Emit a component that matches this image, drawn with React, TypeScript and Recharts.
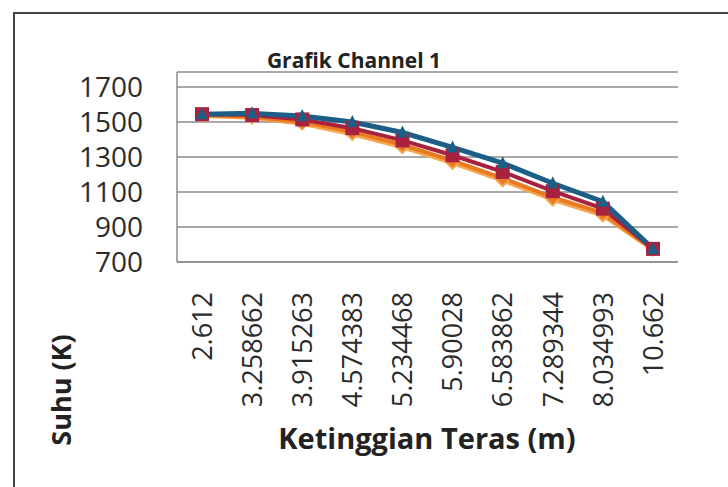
import React from "react"
import { LineChart, Line, XAxis, YAxis, CartesianGrid } from "recharts"

const heights = [
  "2.612",
  "3.258662",
  "3.915263",
  "4.574383",
  "5.234468",
  "5.90028",
  "6.583862",
  "7.289344",
  "8.034993",
  "10.662",
]

// four temperature series, top to bottom in the picture
const blueSeries = [1545, 1550, 1535, 1500, 1440, 1355, 1265, 1150, 1045, 775]
const redSeries = [1545, 1540, 1515, 1465, 1395, 1310, 1215, 1105, 1005, 775]
const orangeSeries = [1540, 1530, 1500, 1445, 1370, 1280, 1180, 1070, 980, 772]
const lightOrangeSeries = [1535, 1525, 1490, 1430, 1355, 1265, 1165, 1055, 965, 770]

const yTicks = [700, 900, 1100, 1300, 1500, 1700]

const data = heights.map((h, i) => ({
  name: h,
  s1: blueSeries[i],
  s2: redSeries[i],
  s3: orangeSeries[i],
  s4: lightOrangeSeries[i],
}))

const font = "'Open Sans', 'Noto Sans', sans-serif"

function YTick({ y, payload }: any) {
  return (
    <text x={143} y={y} dy="0.36em" textAnchor="end" fontFamily={font} fontSize={28} fill="#2b2b2b">
      {payload.value}
    </text>
  )
}

function XTick({ x, payload }: any) {
  return (
    <text
      transform={`translate(${x},292) rotate(-90)`}
      dy="0.36em"
      textAnchor="end"
      fontFamily={font}
      fontSize={27}
      fill="#2b2b2b"
    >
      {payload.value}
    </text>
  )
}

function Triangle({ cx, cy, fill }: any) {
  if (cx == null || cy == null) return null
  return <path d={`M${cx},${cy - 7} L${cx + 6},${cy + 5} L${cx - 6},${cy + 5} Z`} fill={fill} />
}

function Square({ cx, cy, fill }: any) {
  if (cx == null || cy == null) return null
  return <rect x={cx - 7} y={cy - 7} width={14} height={14} fill={fill} />
}

function Diamond({ cx, cy, fill }: any) {
  if (cx == null || cy == null) return null
  return <path d={`M${cx},${cy - 7} L${cx + 7},${cy} L${cx},${cy + 7} L${cx - 7},${cy} Z`} fill={fill} />
}

export default function App() {
  return (
    <div style={{ position: "absolute", left: 0, top: 0, width: 728, height: 487, background: "#fff", overflow: "hidden" }}>
      <div
        style={{
          position: "absolute",
          left: 13,
          top: 12,
          width: 730,
          height: 490,
          borderTop: "2px solid #444",
          borderLeft: "2px solid #444",
        }}
      />
      <LineChart width={728} height={487} data={data} margin={{ top: 72, right: 50, left: 0, bottom: 0 }}>
        <CartesianGrid vertical={false} stroke="#8c8c8c" strokeWidth={1.5} />
        <XAxis
          dataKey="name"
          height={225}
          padding={{ left: 25, right: 25 }}
          axisLine={{ stroke: "#8c8c8c", strokeWidth: 1.5 }}
          tickLine={false}
          interval={0}
          tick={<XTick />}
        />
        <YAxis
          width={177}
          domain={[700, 1786]}
          ticks={yTicks}
          axisLine={{ stroke: "#8c8c8c", strokeWidth: 1.5 }}
          tickLine={false}
          tick={<YTick />}
        />
        <Line dataKey="s4" stroke="#f6a64c" strokeWidth={4} dot={<Diamond fill="#f6a64c" />} isAnimationActive={false} />
        <Line dataKey="s3" stroke="#ea7a22" strokeWidth={4} dot={<Diamond fill="#ea7a22" />} isAnimationActive={false} />
        <Line dataKey="s2" stroke="#a8213f" strokeWidth={4} dot={<Square fill="#a8213f" />} isAnimationActive={false} />
        <Line dataKey="s1" stroke="#1d5e86" strokeWidth={5} dot={<Triangle fill="#1d5e86" />} isAnimationActive={false} />
      </LineChart>
      <div
        style={{
          position: "absolute",
          left: 354,
          top: 60,
          transform: "translate(-50%,-50%)",
          fontFamily: font,
          fontWeight: 700,
          fontSize: 21,
          color: "#222",
          whiteSpace: "nowrap",
        }}
      >
        Grafik Channel 1
      </div>
      <div
        style={{
          position: "absolute",
          left: 427,
          top: 437,
          transform: "translate(-50%,-50%)",
          fontFamily: font,
          fontWeight: 700,
          fontSize: 29,
          color: "#222",
          whiteSpace: "nowrap",
        }}
      >
        Ketinggian Teras (m)
      </div>
      <div
        style={{
          position: "absolute",
          left: 60,
          top: 390,
          transform: "translate(-50%,-50%) rotate(-90deg)",
          fontFamily: font,
          fontWeight: 700,
          fontSize: 27,
          color: "#222",
          whiteSpace: "nowrap",
        }}
      >
        Suhu (K)
      </div>
    </div>
  )
}
